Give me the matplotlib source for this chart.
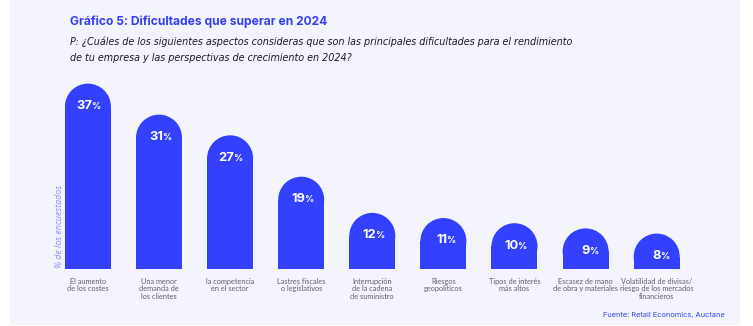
import numpy as np
import matplotlib.pyplot as plt
from matplotlib.patches import Rectangle, Ellipse

# data
labels = ["El aumento\nde los costes", "Una menor\ndemanda de\nlos clientes",
          "la competencia\nen el sector", "Lastres fiscales\no legislativos",
          "Interrupción\nde la cadena\nde suministro", "Riesgos\ngeopolíticos",
          "Tipos de interés\nmás altos", "Escasez de mano\nde obra y materiales",
          "Volatilidad de divisas/\nriesgo de los mercados\nfinancieros"]
values = [37, 31, 27, 19, 12, 11, 10, 9, 8]

blue = "#3341FF"
bg = "#F4F4FD"
W, H = 753, 326

plt.rcParams['font.family'] = ['Inter', 'DejaVu Sans']

fig = plt.figure(figsize=(W / 100, H / 100), dpi=100)
fig.patch.set_facecolor("white")
# lavender panel
fig.patches.append(Rectangle((10 / W, 1 / H), 730 / W, 325 / H, transform=fig.transFigure,
                             facecolor=bg, edgecolor="none", zorder=-5))

# axes in pixel terms: first bar center ~88px, step 71.1px, baseline at 268.5px from top
x0, step = 87.9, 71.1
ax = fig.add_axes([40 / W, 57.5 / H, 680 / W, 208.5 / H])
ax.set_facecolor("none")
x = np.arange(len(values))
ax.set_xlim(-(x0 - 40) / step, (720 - x0) / step)
ax.set_ylim(1.24, 1.24 + 208.5 / 5.17)
ax.axis("off")

bw = 46 / step
r_y = 23 / 5.17  # radius of the round top in % units
for xi, v, lab in zip(x, values, labels):
    ax.add_patch(Rectangle((xi - bw / 2, 0), bw, v - r_y, facecolor=blue, edgecolor="none"))
    ax.add_patch(Ellipse((xi, v - r_y), bw, 2 * r_y, facecolor=blue, edgecolor="none"))
    ax.annotate(str(v), (xi, v), xytext=(2.9, -18.3), textcoords="offset points",
                ha="right", va="baseline", color="white", fontsize=9.3, fontweight="bold")
    ax.annotate("%", (xi, v), xytext=(2.2, -18.3), textcoords="offset points",
                ha="left", va="baseline", color="white", fontsize=6.5, fontweight="bold")
    ax.annotate(lab, (xi, 1.24), xytext=(0, -6.5), textcoords="offset points",
                ha="center", va="top", color="#606068", fontsize=5.3, linespacing=1.15,
                annotation_clip=False, family=['Lato', 'DejaVu Sans'])

fig.text(70 / W, 1 - 22 / H, "Gráfico 5: Dificultades que superar en 2024", color="#3341F0",
         fontsize=8.7, fontweight="bold", va="center", ha="left")
fig.text(70 / W, 1 - 41.5 / H, "P: ¿Cuáles de los siguientes aspectos consideras que son las principales dificultades para el rendimiento",
         color="#1c1c28", fontsize=6.95, style="italic", va="center", ha="left",
         family=['DejaVu Sans'])
fig.text(70 / W, 1 - 58.3 / H, "de tu empresa y las perspectivas de crecimiento en 2024?",
         color="#1c1c28", fontsize=6.95, style="italic", va="center", ha="left",
         family=['DejaVu Sans'])
fig.text(59 / W, 1 - 268 / H, "% de los encuestados", rotation=90, color="#8a8ff5",
         fontsize=6.4, style="italic", ha="center", va="bottom", family=['Open Sans', 'DejaVu Sans'])
fig.text(725 / W, 1 - 315 / H, "Fuente: Retail Economics, Auctane", color="#3341F0",
         fontsize=5.3, ha="right", va="center")

fig.savefig("out.png", dpi=100, facecolor=fig.get_facecolor())
